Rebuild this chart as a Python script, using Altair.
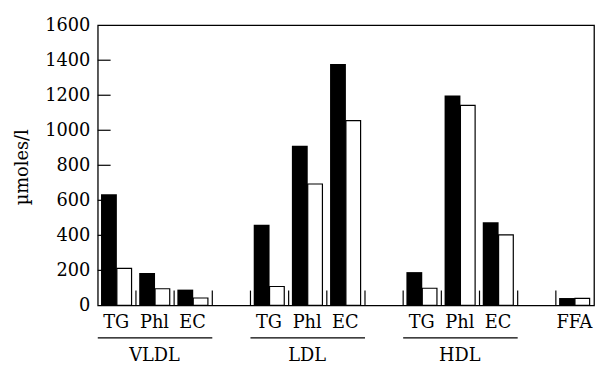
import altair as alt
import pandas as pd

# ---- data ----
groups = ["VLDL", "LDL", "HDL", "FFA"]
group_components = [["TG", "Phl", "EC"], ["TG", "Phl", "EC"], ["TG", "Phl", "EC"], ["FFA"]]
black_values = [635, 185, 90, 460, 912, 1378, 190, 1198, 475, 42]
white_values = [211, 95, 42, 108, 693, 1055, 98, 1142, 403, 40]
y_ticks = [0, 200, 400, 600, 800, 1000, 1200, 1400, 1600]

FONT = "DejaVu Serif"
W, H = 503, 284

# ---- build tables (slot layout: one empty slot between groups) ----
rows, grp_rows = [], []
slot, k = 0, 0
for g, comps in zip(groups, group_components):
    start = slot
    for c in comps:
        rows.append(dict(group=g, comp=c, slot=slot,
                         b0=slot + 0.085, b1=slot + 0.5, w1=slot + 0.885,
                         center=slot + 0.485,
                         black=black_values[k], white=white_values[k]))
        slot += 1
        k += 1
    grp_rows.append(dict(group=g, start=start, end=slot,
                         center=(start + slot - 1) / 2 + 0.485,
                         multi=len(comps) > 1))
    slot += 1
n_slots = slot - 1
df = pd.DataFrame(rows)
gdf = pd.DataFrame([r for r in grp_rows if r["multi"]])
bdf = pd.DataFrame({"pos": list(range(1, n_slots))})
ydf = pd.DataFrame({"val": y_ticks[1:-1]})

xscale = alt.Scale(domain=[0, n_slots], nice=False, zero=False)
yscale = alt.Scale(domain=[0, 1600], nice=False)
yaxis = alt.Axis(values=y_ticks, ticks=False, domain=False, grid=False,
                 labelFont=FONT, labelFontSize=18, labelColor="black",
                 labelPadding=8, title=None, format="d")

base = alt.Chart(df)

black_bars = base.mark_bar(color="black").encode(
    x=alt.X("b0:Q", scale=xscale, axis=None),
    x2="b1:Q",
    y=alt.Y("black:Q", scale=yscale, axis=yaxis),
    y2=alt.datum(0),
)
white_bars = base.mark_bar(fill="white", stroke="black", strokeWidth=1.2).encode(
    x=alt.X("b1:Q", scale=xscale, axis=None),
    x2="w1:Q",
    y=alt.Y("white:Q", scale=yscale, axis=yaxis),
    y2=alt.datum(0),
)
x_tick_marks = alt.Chart(bdf).mark_rule(color="black", strokeWidth=1.2).encode(
    x=alt.X("pos:Q", scale=xscale, axis=None),
    y=alt.value(H),
    y2=alt.value(H - 15),
)
y_tick_marks = alt.Chart(ydf).mark_rule(color="black", strokeWidth=1.2).encode(
    y=alt.Y("val:Q", scale=yscale, axis=yaxis),
    x=alt.value(0),
    x2=alt.value(13),
)
comp_labels = base.mark_text(font=FONT, fontSize=18, color="black",
                             baseline="alphabetic", align="center").encode(
    x=alt.X("center:Q", scale=xscale, axis=None),
    y=alt.value(H + 23),
    text="comp:N",
)
group_lines = alt.Chart(gdf).mark_rule(color="black", strokeWidth=1.2).encode(
    x=alt.X("start:Q", scale=xscale, axis=None),
    x2="end:Q",
    y=alt.value(H + 33),
)
group_labels = alt.Chart(gdf).mark_text(font=FONT, fontSize=18, color="black",
                                        baseline="alphabetic", align="center").encode(
    x=alt.X("center:Q", scale=xscale, axis=None),
    y=alt.value(H + 56),
    text="group:N",
)
y_title = alt.Chart(pd.DataFrame({"t": ["µmoles/l"]})).mark_text(
    font=FONT, fontSize=18, color="black", angle=270,
    baseline="alphabetic", align="center").encode(
    x=alt.value(-71),
    y=alt.value(144),
    text="t:N",
)

chart = alt.layer(
    white_bars, black_bars, x_tick_marks, y_tick_marks,
    comp_labels, group_lines, group_labels, y_title,
).properties(
    width=W, height=H, autosize="none", background="white",
    padding={"left": 91, "top": 15, "right": 2, "bottom": 58},
).configure_view(stroke="black", strokeWidth=1.3)

chart.save("out.html", embed_options={"renderer": "svg", "actions": False})
